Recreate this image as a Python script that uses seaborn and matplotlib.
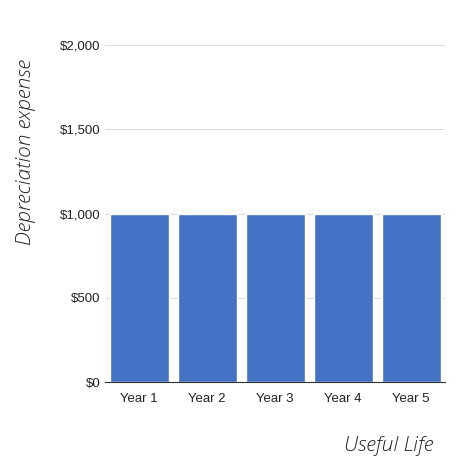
import matplotlib
matplotlib.use("Agg")
import matplotlib.pyplot as plt
import seaborn as sns
import pandas as pd

years = ["Year 1", "Year 2", "Year 3", "Year 4", "Year 5"]
expense = [1000, 1000, 1000, 1000, 1000]

sns.set_style("white")
plt.rcParams['font.family'] = ['Liberation Sans', 'DejaVu Sans']
fig = plt.figure(figsize=(4.74, 4.74), dpi=100)
ax = fig.add_axes([0.222, 0.194, 0.717, 0.711])
df = pd.DataFrame({"year": years, "expense": expense})
sns.barplot(data=df, x="year", y="expense", color="#4472C4", saturation=1, width=0.87, ax=ax)
ax.set_ylim(0, 2000)
ax.set_xlim(-0.5, 4.5)
ax.set_yticks([0, 500, 1000, 1500, 2000])
ax.set_yticklabels(["$0", "$500", "$1,000", "$1,500", "$2,000"])
ax.yaxis.grid(True, color="#dddddd", lw=0.8)
ax.set_axisbelow(True)
for s in ["top", "right", "left"]:
    ax.spines[s].set_visible(False)
ax.spines["bottom"].set_color("#333333")
ax.tick_params(axis="both", length=0, labelsize=9.5, colors="#222222")
ax.tick_params(axis="x", pad=8)
ax.set_xlabel("")
ax.set_ylabel("")
fig.text(0.055, 0.68, "Depreciation expense", rotation=90, ha="center", va="center",
         fontsize=15, style="italic", family=["Open Sans", "DejaVu Sans"], weight="light", color="#222222")
fig.text(0.82, 0.06, "Useful Life", ha="center", va="center",
         fontsize=15, style="italic", family=["Open Sans", "DejaVu Sans"], weight="light", color="#222222")
fig.savefig("out.png", dpi=100, facecolor="white")
